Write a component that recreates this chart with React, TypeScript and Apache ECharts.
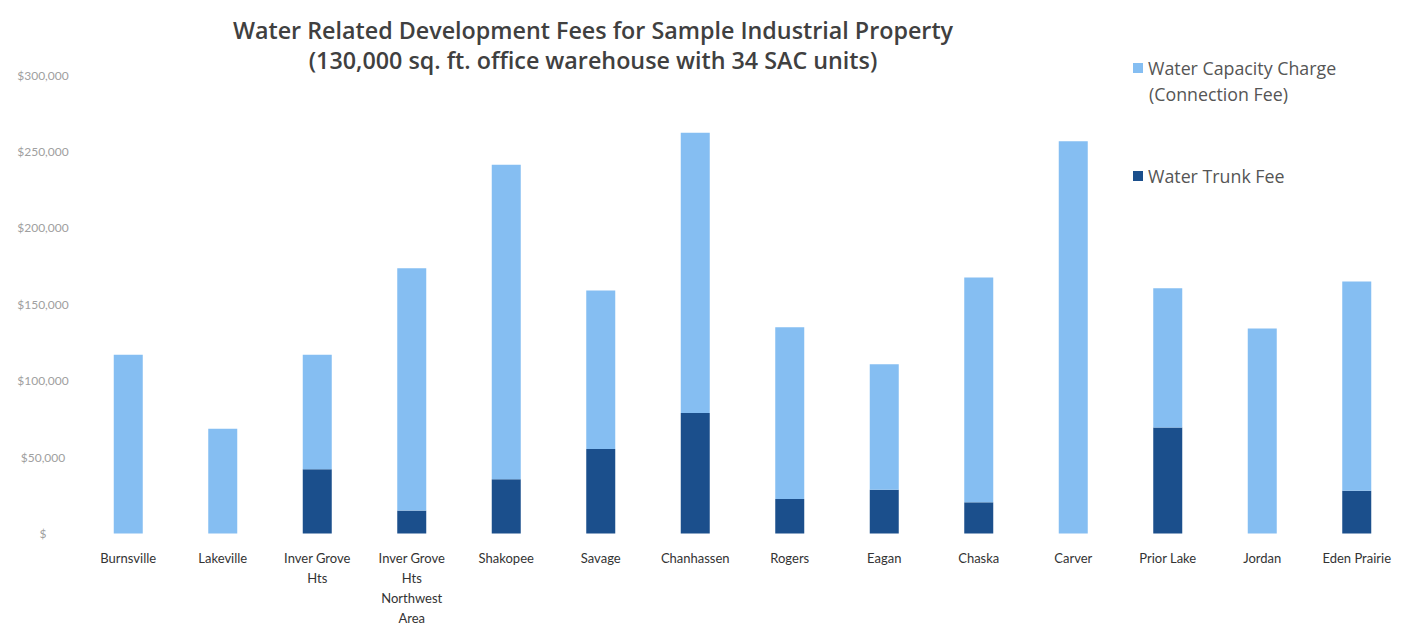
import React, { useEffect, useRef } from "react";
import * as echarts from "echarts";

const categories = [
  "Burnsville",
  "Lakeville",
  "Inver Grove\nHts",
  "Inver Grove\nHts\nNorthwest\nArea",
  "Shakopee",
  "Savage",
  "Chanhassen",
  "Rogers",
  "Eagan",
  "Chaska",
  "Carver",
  "Prior Lake",
  "Jordan",
  "Eden Prairie",
];

const trunkFee = [0, 0, 42000, 15000, 35500, 55300, 78800, 22600, 28700, 20400, 0, 69300, 0, 28000];
const capacityCharge = [116900, 68600, 74900, 158500, 205700, 103700, 183400, 112400, 82100, 147100, 256700, 91200, 134100, 136900];

const CAP_NAME = "Water Capacity Charge (Connection Fee)";
const TRUNK_NAME = "Water Trunk Fee";

export default function App() {
  const ref = useRef<HTMLDivElement>(null);
  useEffect(() => {
    if (!ref.current) return;
    const chart = echarts.init(ref.current, null, { renderer: "svg" });
    const fmt = (v: number) => (v === 0 ? "$" : "$" + v.toLocaleString("en-US"));
    chart.setOption({
      animation: false,
      backgroundColor: "#ffffff",
      title: {
        text: "Water Related Development Fees for Sample Industrial Property\n(130,000 sq. ft. office warehouse with 34 SAC units)",
        left: 588,
        top: 10,
        textAlign: "center",
        textStyle: {
          fontFamily: "Open Sans",
          fontSize: 23.3,
          fontWeight: 600,
          color: "#404040",
          lineHeight: 30,
        },
      },
      legend: [
        {
          data: [CAP_NAME],
          orient: "vertical",
          left: 1128,
          top: 54,
          icon: "rect",
          itemWidth: 10,
          itemHeight: 10,
          itemGap: 6,
          formatter: () => "Water Capacity Charge",
          textStyle: { fontFamily: "Open Sans", fontSize: 17.8, color: "#555555" },
        },
        {
          data: [TRUNK_NAME],
          orient: "vertical",
          left: 1128,
          top: 162,
          icon: "rect",
          itemWidth: 10,
          itemHeight: 10,
          textStyle: { fontFamily: "Open Sans", fontSize: 17.8, color: "#555555" },
        },
      ],
      graphic: [
        {
          type: "text",
          left: 1149,
          top: 85,
          style: {
            text: "(Connection Fee)",
            fontFamily: "Open Sans",
            fontSize: 17.8,
            fill: "#555555",
          },
        },
      ],
      grid: { left: 81, right: 7, top: 75, bottom: 90.5, containLabel: false },
      xAxis: {
        type: "category",
        data: categories,
        axisLine: { show: false },
        axisTick: { show: false },
        axisLabel: {
          interval: 0,
          margin: 14.5,
          fontFamily: "Lato",
          fontSize: 13,
          lineHeight: 20,
          color: "#333333",
        },
      },
      yAxis: {
        type: "value",
        min: 0,
        max: 300000,
        interval: 50000,
        splitLine: { show: false },
        axisLine: { show: false },
        axisTick: { show: false },
        axisLabel: {
          formatter: (v: number) => fmt(v),
          align: "center",
          margin: 38,
          fontFamily: "Lato",
          fontSize: 12,
          color: "#a0a0a0",
        },
      },
      series: [
        {
          name: TRUNK_NAME,
          type: "bar",
          stack: "fees",
          barWidth: 29,
          data: trunkFee,
          itemStyle: { color: "#1B4F8C" },
        },
        {
          name: CAP_NAME,
          type: "bar",
          stack: "fees",
          barWidth: 29,
          data: capacityCharge,
          itemStyle: { color: "#85BEF2" },
        },
      ],
    });
    return () => chart.dispose();
  }, []);
  return (
    <div
      ref={ref}
      style={{ position: "absolute", left: 0, top: 0, width: 1411, height: 628 }}
    />
  );
}
